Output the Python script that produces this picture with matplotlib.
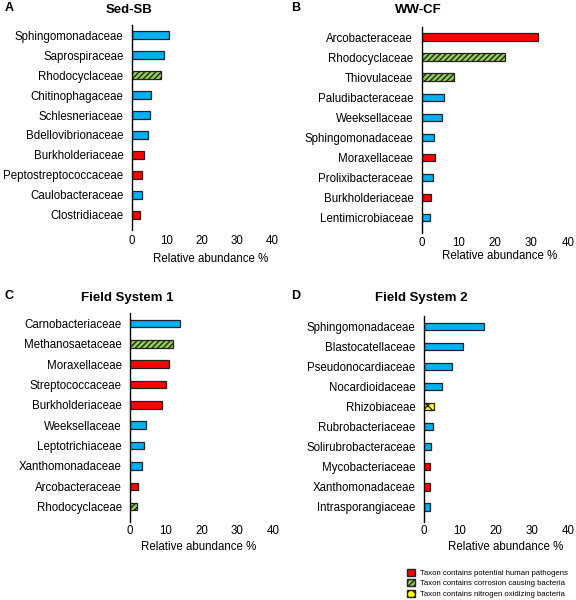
import matplotlib

matplotlib.use("Agg")
import matplotlib.pyplot as plt  # noqa: E402
from matplotlib.patches import Patch  # noqa: E402

plt.rcParams["font.family"] = ["Liberation Sans", "DejaVu Sans"]
plt.rcParams["hatch.linewidth"] = 1.0

# taxon group codes: o = other, p = pathogen, c = corrosion, n = nitrogen oxidizing
sed_taxa = ["Sphingomonadaceae", "Saprospiraceae", "Rhodocyclaceae", "Chitinophagaceae",
            "Schlesneriaceae", "Bdellovibrionaceae", "Burkholderiaceae",
            "Peptostreptococcaceae", "Caulobacteraceae", "Clostridiaceae"]
sed_values = [10.5, 9.1, 8.2, 5.6, 5.1, 4.5, 3.4, 2.9, 2.8, 2.4]
sed_groups = ["o", "o", "c", "o", "o", "o", "p", "p", "o", "p"]

ww_taxa = ["Arcobacteraceae", "Rhodocyclaceae", "Thiovulaceae", "Paludibacteraceae",
           "Weeksellaceae", "Sphingomonadaceae", "Moraxellaceae", "Prolixibacteraceae",
           "Burkholderiaceae", "Lentimicrobiaceae"]
ww_values = [31.7, 22.9, 8.8, 6.2, 5.7, 3.5, 3.6, 3.2, 2.6, 2.2]
ww_groups = ["p", "c", "c", "o", "o", "o", "p", "o", "p", "o"]

fs1_taxa = ["Carnobacteriaceae", "Methanosaetaceae", "Moraxellaceae", "Streptococcaceae",
            "Burkholderiaceae", "Weeksellaceae", "Leptotrichiaceae", "Xanthomonadaceae",
            "Arcobacteraceae", "Rhodocyclaceae"]
fs1_values = [14.0, 12.1, 10.9, 9.9, 9.0, 4.4, 4.0, 3.4, 2.1, 1.8]
fs1_groups = ["o", "c", "p", "p", "p", "o", "o", "o", "p", "c"]

fs2_taxa = ["Sphingomonadaceae", "Blastocatellaceae", "Pseudonocardiaceae", "Nocardioidaceae",
            "Rhizobiaceae", "Rubrobacteriaceae", "Solirubrobacteraceae", "Mycobacteriaceae",
            "Xanthomonadaceae", "Intrasporangiaceae"]
fs2_values = [16.7, 10.9, 7.7, 5.0, 2.8, 2.6, 2.0, 1.8, 1.7, 1.7]
fs2_groups = ["o", "o", "o", "o", "n", "o", "o", "p", "p", "o"]

x_ticks = [0, 10, 20, 30, 40]

styles = {
    "o": {"color": "#00B0F0", "hatch": None},
    "p": {"color": "#FF0000", "hatch": None},
    "c": {"color": "#92D050", "hatch": "//////"},
    "n": {"color": "#FFFF00", "hatch": "xxx"},
}

# letter, title, data, axes rect, title y, xlabel (x, y), tick pad
panels = [
    ("A", "Sed-SB", sed_taxa, sed_values, sed_groups,
     [0.229, 0.617, 0.243, 0.341], 0.983, (0.366, 0.568), 4),
    ("B", "WW-CF", ww_taxa, ww_values, ww_groups,
     [0.732, 0.612, 0.254, 0.343], 0.983, (0.868, 0.573), 3),
    ("C", "Field System 1", fs1_taxa, fs1_values, fs1_groups,
     [0.226, 0.130, 0.248, 0.348], 0.503, (0.345, 0.088), 2),
    ("D", "Field System 2", fs2_taxa, fs2_values, fs2_groups,
     [0.736, 0.130, 0.250, 0.343], 0.503, (0.878, 0.088), 2),
]

fig = plt.figure(figsize=(5.76, 6.0), dpi=100)

for letter, title, taxa, values, groups, rect, title_y, xlabel_pos, pad in panels:
    ax = fig.add_axes(rect)
    positions = list(range(len(taxa)))
    for pos, value, group in zip(positions, values, groups):
        style = styles[group]
        ax.barh(pos, value, height=0.37, color=style["color"], hatch=style["hatch"],
                edgecolor="#222222", linewidth=0.9)
    ax.set_yticks(positions)
    ax.set_yticklabels(taxa, fontsize=8.3)
    ax.set_ylim(len(taxa) - 0.25, -0.5)
    ax.set_xlim(0, 40)
    ax.set_xticks(x_ticks)
    ax.tick_params(axis="x", length=0, labelsize=8.3, pad=pad)
    ax.tick_params(axis="y", length=0, pad=6)
    for side in ["top", "right", "bottom"]:
        ax.spines[side].set_visible(False)
    ax.spines["left"].set_linewidth(1.0)
    fig.text(xlabel_pos[0], xlabel_pos[1], "Relative abundance %", fontsize=8.3,
             ha="center", va="center")
    fig.text(rect[0] - 0.005, title_y, title, fontsize=9.5, fontweight="bold",
             ha="center", va="center")
    fig.text(0.008 if letter in "AC" else 0.505, title_y + 0.003, letter,
             fontsize=9, fontweight="bold", ha="left", va="center")

handles = [
    Patch(facecolor=styles["p"]["color"], edgecolor="#222222", label="Taxon contains potential human pathogens"),
    Patch(facecolor=styles["c"]["color"], edgecolor="#222222", hatch="//////",
          label="Taxon contains corrosion causing bacteria"),
    Patch(facecolor=styles["n"]["color"], edgecolor="#222222", hatch="xxx",
          label="Taxon contains nitrogen oxidizing bacteria"),
]
fig.legend(handles=handles, loc="lower left", bbox_to_anchor=(0.695, -0.008), frameon=False,
           fontsize=5.6, handlelength=1.0, handleheight=1.0, handletextpad=0.6, labelspacing=0.3)

fig.savefig("out.png", dpi=100)
